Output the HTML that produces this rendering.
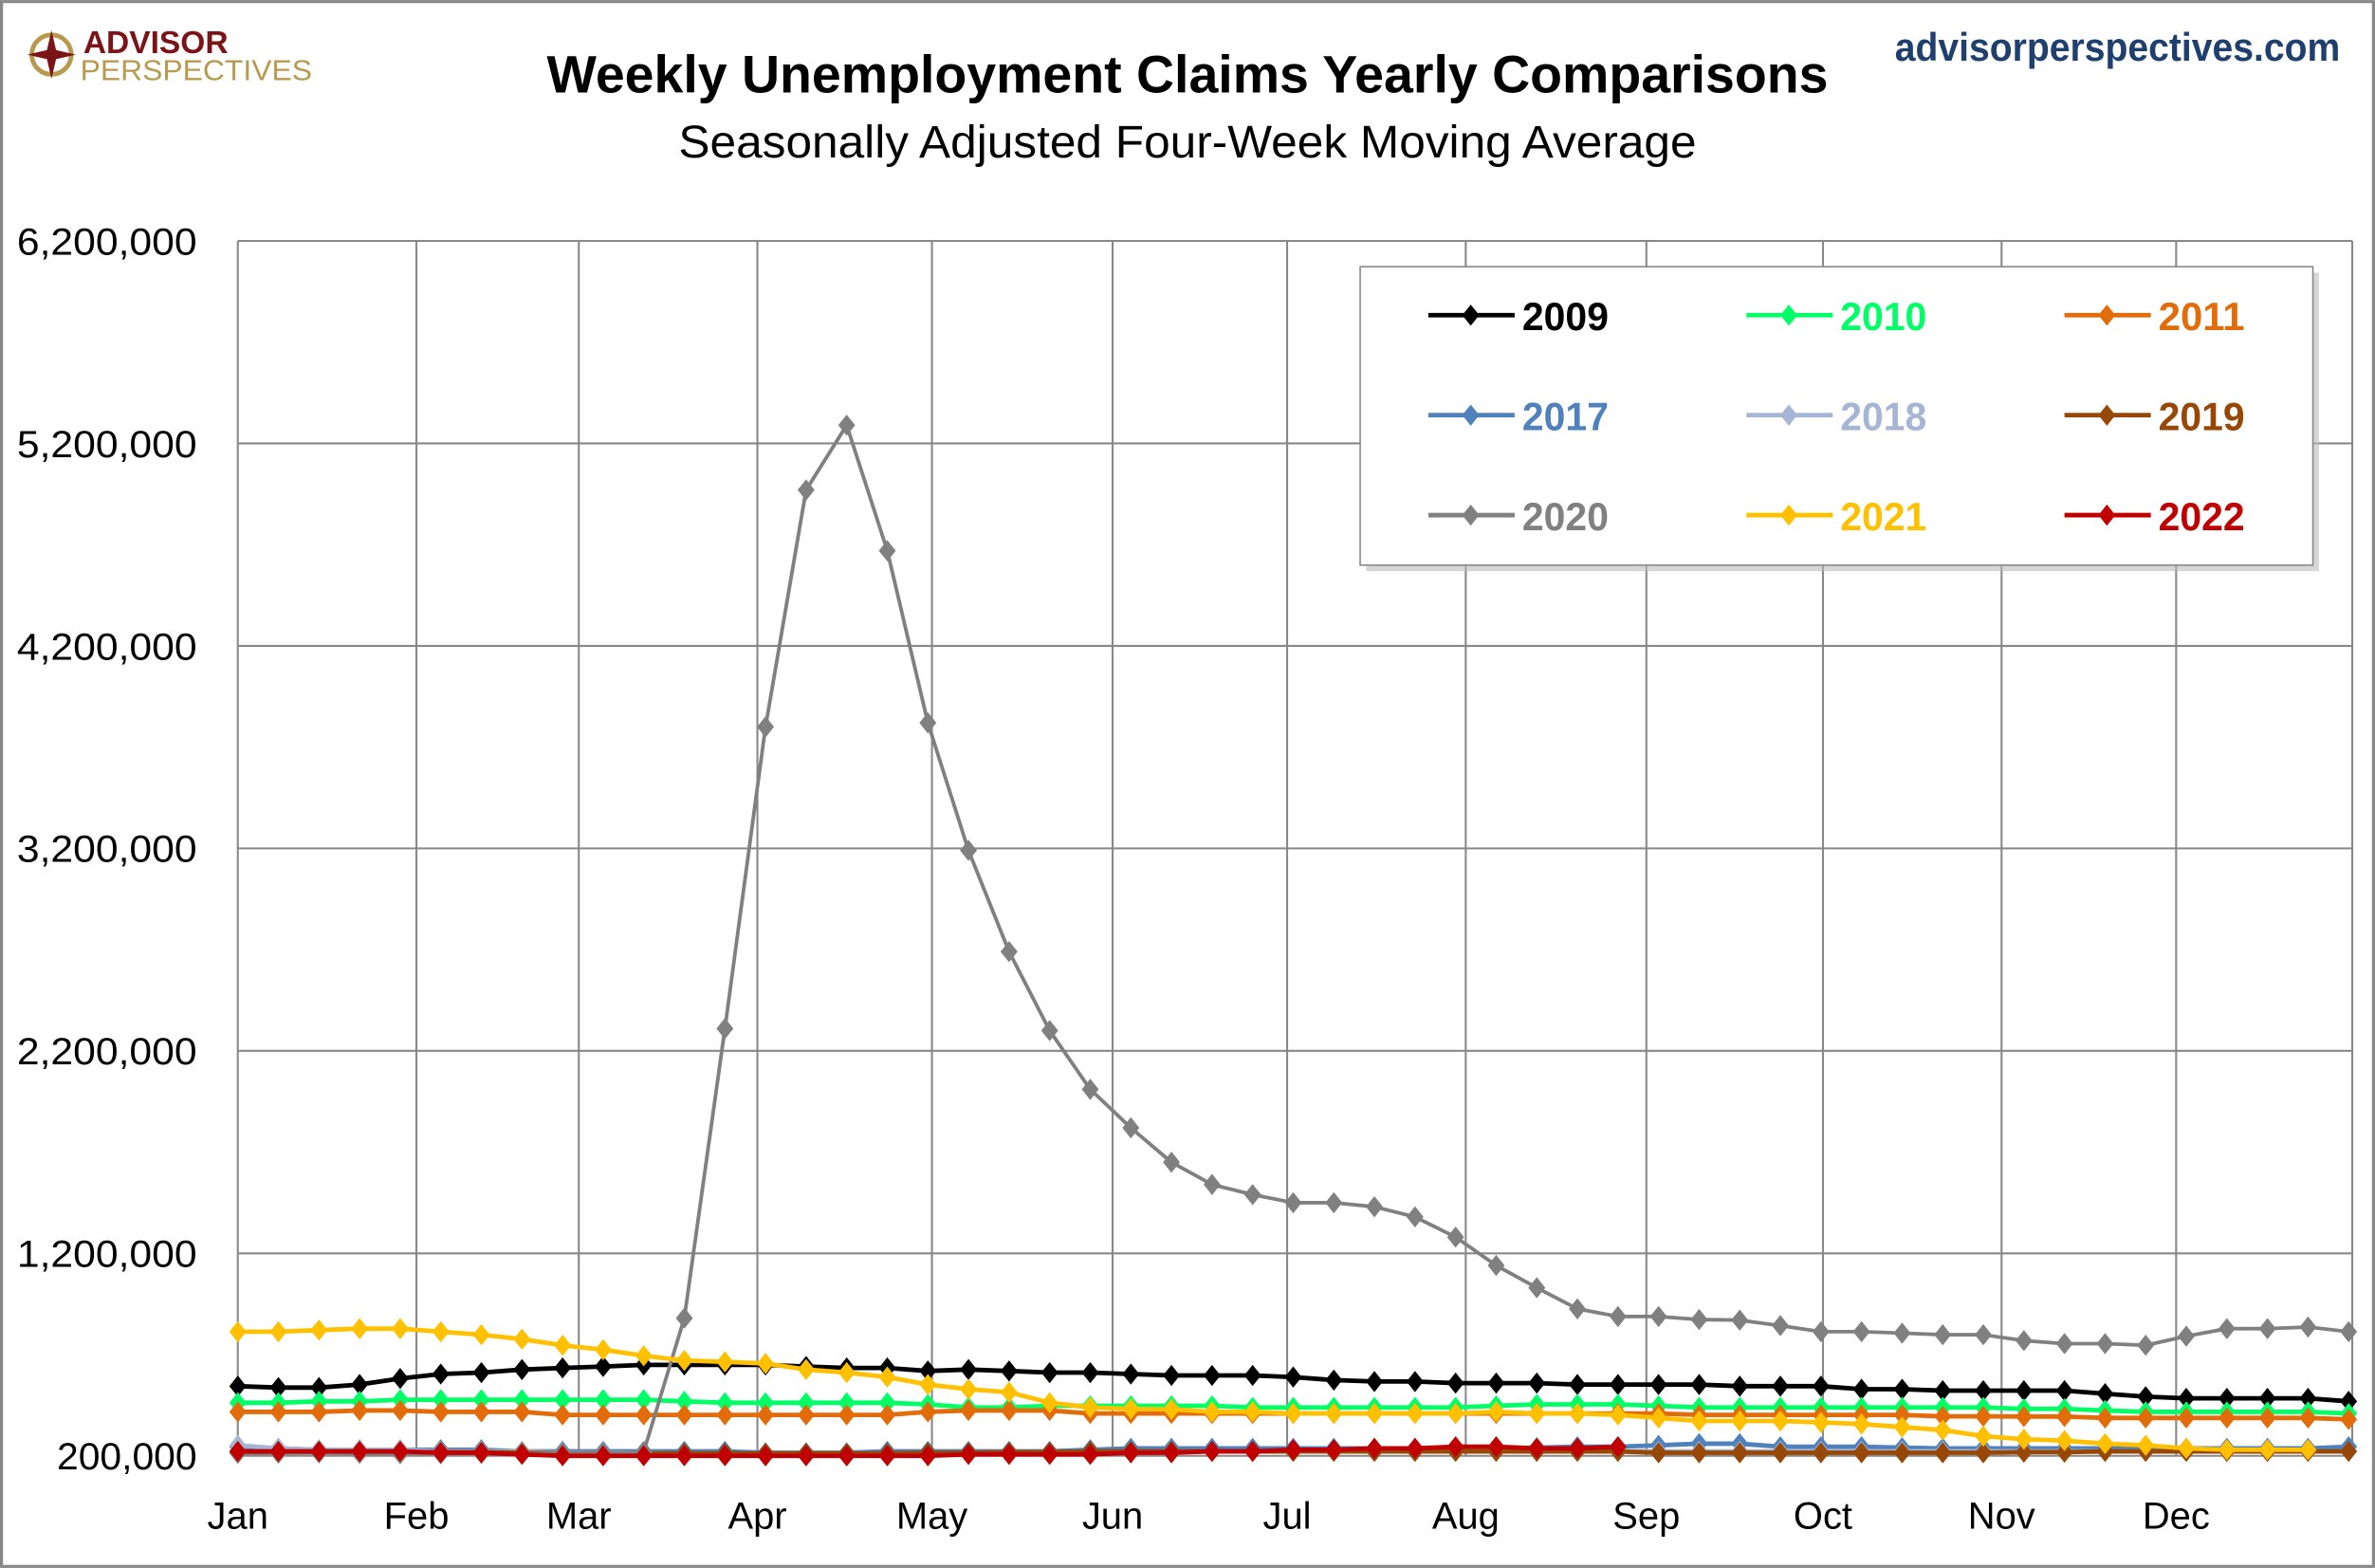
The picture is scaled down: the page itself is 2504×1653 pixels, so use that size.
<!DOCTYPE html>
<html><head><meta charset="utf-8"><style>
html,body{margin:0;padding:0;background:#fff}
svg{display:block}
text{font-family:"Liberation Sans",sans-serif}
</style></head><body>
<svg id="chart" width="2504" height="1653" viewBox="0 0 1568 1035" xmlns="http://www.w3.org/2000/svg">
<rect x="1" y="1" width="1566" height="1033" fill="#fff" stroke="#888" stroke-width="2"/>
<g>
<circle cx="34" cy="36" r="13" fill="none" stroke="#b89a4e" stroke-width="3"/>
<polygon points="34,20 37,33 50,36 37,39 34,52 31,39 18,36 31,33" fill="#7b1416"/>
<text x="55" y="35" font-size="21" font-weight="bold" fill="#7b1416">ADVISOR</text>
<text x="53" y="53" font-size="19" fill="#b89a4e" textLength="153" lengthAdjust="spacingAndGlyphs">PERSPECTIVES</text>
</g>
<text x="784" y="61" text-anchor="middle" font-size="35" font-weight="bold" fill="#000" textLength="846" lengthAdjust="spacingAndGlyphs">Weekly Unemployment Claims Yearly Comparisons</text>
<text x="784" y="104" text-anchor="middle" font-size="30" fill="#000" textLength="672" lengthAdjust="spacingAndGlyphs">Seasonally Adjusted Four-Week Moving Average</text>
<text x="1545" y="40" text-anchor="end" font-size="26" font-weight="bold" fill="#1f3f6e" textLength="294" lengthAdjust="spacingAndGlyphs">advisorperspectives.com</text>
<g id="grid"></g>
<g id="yaxis"></g>
<g id="xaxis"></g>
<g id="series"></g>
<g id="legend"></g>
</svg>
<script>
const months=["Jan","Feb","Mar","Apr","May","Jun","Jul","Aug","Sep","Oct","Nov","Dec"];
const monthPos=[0,4.4,8.4,12.8,17.1,21.55,25.85,30.25,34.7,39.05,43.45,47.75];
const yTicks=[200000,1200000,2200000,3200000,4200000,5200000,6200000];
const yTickLabels=["200,000","1,200,000","2,200,000","3,200,000","4,200,000","5,200,000","6,200,000"];
const years=["2009","2010","2011","2017","2018","2019","2020","2021","2022"];
const colors=["#000000","#00ff66","#e36c0a","#4f81bd","#a5b5d5","#974806","#808080","#ffc000","#c00000"];
const s2009=[544,537,537,552,582,604,611,626,634,641,649,649,649,649,641,634,634,619,626,619,611,611,604,597,597,597,589,574,567,567,559,559,559,552,552,552,552,544,544,544,529,529,522,522,522,522,507,492,484,484,484,484,469];
const s2010=[462,462,469,469,477,477,477,477,477,477,477,469,462,462,462,462,462,454,439,439,447,447,447,447,447,439,439,439,439,439,439,447,454,454,454,447,439,439,439,439,439,439,439,439,432,432,424,417,417,417,417,417,409];
const s2011=[417,417,417,424,424,417,417,417,402,402,402,402,402,402,402,402,402,417,424,424,424,409,409,409,409,409,409,409,409,409,409,409,409,409,409,409,402,402,402,402,402,402,395,395,394,394,387,387,387,387,387,387,380];
const s2017=[245,237,230,230,230,230,230,222,222,222,222,222,222,215,215,215,222,222,222,222,222,230,237,237,237,237,237,237,237,237,237,237,240,245,245,252,260,260,245,245,245,240,237,237,237,237,237,237,237,237,237,237,245];
const s2018=[252,237,230,230,230,222,222,222,215,215,215,207,207,200,200,200,207,207,207,207,210,215,215,222,222,222,222,222,222,222,222,222,222,222,222,222,222,222,222,222,222,222,222,222,222,222,222,222,222,222,222,222,222];
const s2019=[218,218,218,218,218,218,218,215,212,212,212,212,212,212,212,212,212,215,215,218,218,222,222,222,222,222,222,222,222,222,222,222,222,222,222,215,215,215,215,215,215,215,215,215,218,218,222,222,222,222,222,222,222];
const s2020=[212,213,214,212,210,210,212,211,212,211,220,880,2310,3800,4970,5290,4670,3820,3190,2690,2300,2010,1820,1650,1540,1490,1450,1450,1430,1380,1280,1140,1030,926,888,888,873,870,843,813,813,806,798,798,769,754,754,746,791,828,828,836,813];
const s2021=[813,813,821,828,828,813,798,776,746,724,694,671,664,656,626,611,589,552,529,514,462,439,432,430,417,417,409,409,409,409,409,417,409,409,402,387,372,372,372,365,357,342,327,297,282,275,260,252,237,230,230,230,null];
const s2022=[222,222,222,222,222,215,215,207,200,200,200,200,200,200,200,200,200,200,207,207,207,207,215,215,222,222,230,230,237,237,245,245,237,237,245,null,null,null,null,null,null,null,null,null,null,null,null,null,null,null,null,null,null];
const allSeries=[s2009,s2010,s2011,s2017,s2018,s2019,s2020,s2021,s2022];
const NS="http://www.w3.org/2000/svg";
const X0=157,X1=1553,Y0=961,Y1=159,STEP=26.8;
function xs(i){return X0+i*STEP;}
function ys(v){return Y0-(v-200000)/6000000*(Y0-Y1);}
function mk(tag,attrs,parent){const e=document.createElementNS(NS,tag);for(const k in attrs)e.setAttribute(k,attrs[k]);parent.appendChild(e);return e;}
const grid=document.getElementById('grid'),ya=document.getElementById('yaxis'),xa=document.getElementById('xaxis'),ser=document.getElementById('series'),leg=document.getElementById('legend');
yTicks.forEach((t,i)=>{
 const l=mk('line',{x1:X0,x2:X1,y1:ys(t),y2:ys(t),stroke:'#888','stroke-width':1.3},grid);
 
 
 const tx=mk('text',{x:130,y:ys(t)+9,'text-anchor':'end','font-size':25,fill:'#000',textLength:yTickLabels[i].length*13.2,lengthAdjust:'spacingAndGlyphs'},ya);
 tx.textContent=yTickLabels[i];
 
 
});
monthPos.concat([52.1]).forEach((p,i)=>{
 const x=i<12?xs(p):X1;
 const l=mk('line',{x1:x,x2:x,y1:Y1,y2:Y0,stroke:'#888','stroke-width':1.3},grid);
 
 
 if(i<12){
  const tx=mk('text',{x:x,y:1009,'text-anchor':'middle','font-size':25,fill:'#000'},xa);
  tx.textContent=months[i];
  
  
 }
});
function diamond(x,y,r){return `${x},${y-r} ${x+r*0.8},${y} ${x},${y+r} ${x-r*0.8},${y}`;}
allSeries.forEach((arr,si)=>{
 const g=mk('g',{},ser);
 
 
 const vals=arr.map(v=>v==null?null:(v<10000?v*1000:v));
 let pts=[];
 vals.forEach((v,i)=>{if(v!=null)pts.push(xs(i)+','+ys(v));});
 mk('polyline',{points:pts.join(' '),fill:'none',stroke:colors[si],'stroke-width':si==6?2.4:3,'stroke-linejoin':'round'},g);
 vals.forEach((v,i)=>{if(v==null)return;
  const d=mk('polygon',{points:diamond(xs(i),ys(v),7),fill:colors[si]},g);
  
  
 });
});
mk('rect',{x:902,y:180,width:629,height:197,fill:'#bbb',opacity:0.6},leg);
const box=mk('rect',{x:898,y:176,width:629,height:197,fill:'#fff',stroke:'#888','stroke-width':1},leg);


const colX=[943,1153,1363],rowY=[208,274,340];
years.forEach((yr,i)=>{
 const cx=colX[i%3],cy=rowY[Math.floor(i/3)];
 const g=mk('g',{},leg);
 
 
 mk('line',{x1:cx,x2:cx+57,y1:cy,y2:cy,stroke:colors[i],'stroke-width':3},g);
 mk('polygon',{points:diamond(cx+28,cy,7),fill:colors[i]},g);
 const t=mk('text',{x:cx+62,y:cy+10,'font-size':26,'font-weight':'bold',fill:colors[i],textLength:57,lengthAdjust:'spacingAndGlyphs'},g);
 t.textContent=yr;
});
</script>
</body></html>
